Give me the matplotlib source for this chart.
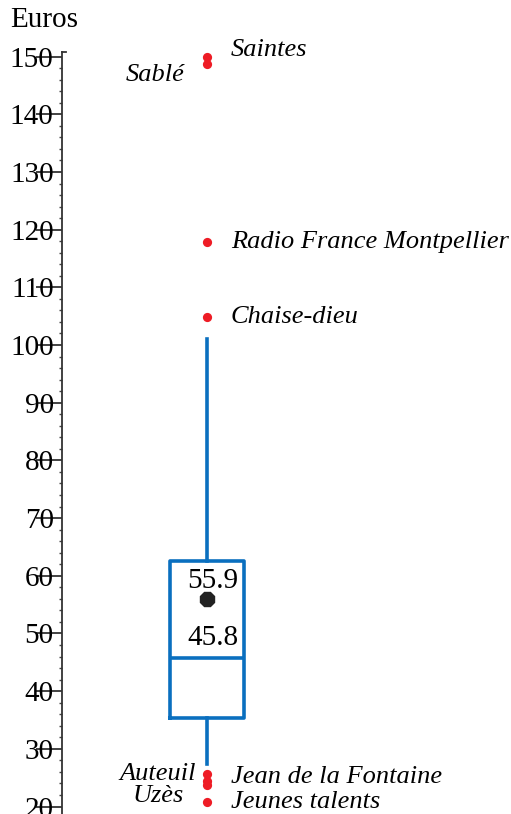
import matplotlib
matplotlib.use("Agg")
import matplotlib.pyplot as plt
import numpy as np
from matplotlib.ticker import MultipleLocator

# Data
q1, median, q3 = 35.3, 45.8, 62.6
whisker_low, whisker_high = 27.3, 101.0
mean_value = 55.9
outlier_names = ["Saintes", "Sablé", "Radio France Montpellier", "Chaise-dieu",
                 "Auteuil", "Jean de la Fontaine", "Uzès", "Jeunes talents"]
outlier_values = [150.0, 148.7, 117.8, 104.8, 25.6, 24.4, 23.8, 20.8]
outlier_side = ["right", "left", "right", "right", "left", "right", "left", "right"]
outlier_dx = [17, -16, 17, 17, -8, 17, -17, 17]  # label offsets (points)
outlier_dy = [5, -8, 0, 0, 0, 3, -8, 0]

BLUE = "#0A6FBF"
RED = "#EE1C25"
FONT = ["Liberation Serif", "DejaVu Serif"]

plt.rcParams["font.family"] = FONT

fig = plt.figure(figsize=(5.11, 8.14), dpi=100)
ax = fig.add_axes([62 / 511, 0, 449 / 511, (814 - 52) / 814])

stats = [dict(med=median, q1=q1, q3=q3, whislo=whisker_low, whishi=whisker_high,
              mean=mean_value, fliers=[], label="")]
ax.bxp(stats, positions=[0], widths=0.5, showmeans=True, showcaps=False,
       showfliers=False, patch_artist=False,
       boxprops=dict(color=BLUE, linewidth=2.6),
       whiskerprops=dict(color=BLUE, linewidth=2.6),
       medianprops=dict(color=BLUE, linewidth=2.6),
       meanprops=dict(marker="8", markerfacecolor="#222222",
                      markeredgecolor="#222222", markersize=11))

ax.scatter(np.zeros(len(outlier_values)), outlier_values, s=44, color=RED,
           zorder=5, linewidths=0)

for name, val, side, dx, dy in zip(outlier_names, outlier_values, outlier_side,
                                   outlier_dx, outlier_dy):
    ax.annotate(name, (0, val), xytext=(dx, dy), textcoords="offset points",
                ha="left" if side == "right" else "right", va="center",
                fontstyle="italic", fontsize=19)

# value labels inside the box
ax.annotate(f"{mean_value:.1f}", (0.25, mean_value), xytext=(-4, 4),
            textcoords="offset points", ha="right", va="bottom", fontsize=21)
ax.annotate(f"{median:.1f}", (0.25, median), xytext=(-4, 5),
            textcoords="offset points", ha="right", va="bottom", fontsize=21)

ax.set_xlim(-0.98, 2.05)
ax.set_ylim(18.7, 150.8)

for s in ["top", "right", "bottom"]:
    ax.spines[s].set_visible(False)
ax.spines["left"].set_color("#333333")
ax.spines["left"].set_linewidth(1.3)
ax.set_xticks([])

ax.yaxis.set_major_locator(MultipleLocator(10))
ax.yaxis.set_minor_locator(MultipleLocator(2))
ax.tick_params(axis="y", which="major", length=19, width=1.2, color="#222222",
               direction="out", pad=-13, labelsize=21)
ax.tick_params(axis="y", which="minor", length=2, width=1, color="#444444",
               direction="out")
# small hook at the top of the axis
ax.plot([0, 0.008], [1, 1], transform=ax.transAxes, color="#333333",
        linewidth=1.3, clip_on=False)

fig.text(10 / 511, 1 - 20 / 814, "Euros", fontsize=21, ha="left", va="center")

fig.savefig("out.png", dpi=100)
